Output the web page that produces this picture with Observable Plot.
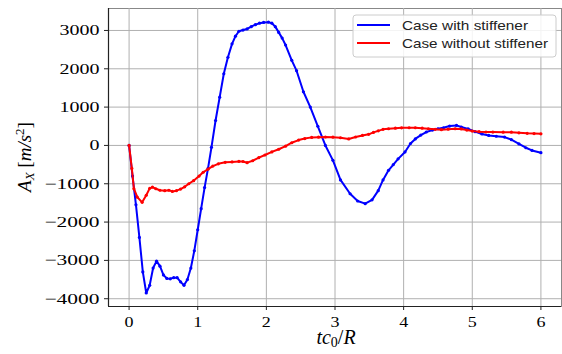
<!DOCTYPE html>
<html><head><meta charset="utf-8">
<script src="https://cdn.jsdelivr.net/npm/d3@7"></script>
<script src="https://cdn.jsdelivr.net/npm/@observablehq/plot@0.6"></script>
<style>body{margin:0;background:#fff}svg{display:block}</style>
</head><body>
<script>
const seriesNames = ["Case with stiffener", "Case without stiffener"];
const seriesColors = ["#0000ff", "#ff0000"];
const tWith = [0,0.05,0.10,0.15,0.20,0.25,0.30,0.35,0.40,0.45,0.50,0.55,0.60,0.65,0.70,0.75,0.80,0.85,0.90,0.95,1.00,1.05,1.10,1.15,1.20,1.26,1.32,1.38,1.44,1.50,1.55,1.60,1.66,1.72,1.78,1.84,1.90,1.96,2.03,2.08,2.13,2.18,2.23,2.28,2.37,2.44,2.54,2.64,2.75,2.86,2.97,3.08,3.22,3.33,3.44,3.54,3.63,3.70,3.78,3.85,3.92,4.02,4.10,4.17,4.25,4.33,4.42,4.50,4.58,4.67,4.77,4.84,4.94,5.04,5.14,5.24,5.35,5.47,5.57,5.68,5.78,5.87,6.00];
const aWith = [0,-800,-1550,-2400,-3300,-3850,-3650,-3200,-3020,-3150,-3380,-3470,-3480,-3450,-3450,-3560,-3650,-3500,-3200,-2750,-2200,-1650,-1100,-600,-50,650,1260,1870,2300,2650,2850,2980,3010,3040,3100,3150,3190,3210,3217,3190,3100,2950,2800,2620,2220,1950,1400,1000,500,0,-390,-900,-1261,-1450,-1520,-1420,-1180,-900,-650,-500,-350,-170,50,170,270,350,400,435,460,505,522,480,430,360,300,260,240,217,150,40,-60,-130,-190];
const tWithout = [0,0.04,0.07,0.12,0.19,0.25,0.30,0.34,0.39,0.45,0.52,0.58,0.63,0.69,0.75,0.81,0.87,0.94,1.02,1.08,1.15,1.22,1.30,1.40,1.50,1.60,1.66,1.72,1.80,1.89,1.98,2.08,2.18,2.28,2.37,2.47,2.56,2.66,2.76,2.86,2.97,3.08,3.20,3.30,3.40,3.49,3.56,3.63,3.70,3.78,3.88,3.97,4.08,4.17,4.27,4.36,4.46,4.55,4.65,4.75,4.84,4.92,5.00,5.10,5.20,5.30,5.45,5.57,5.68,5.80,5.90,6.00];
const aWithout = [0,-600,-1130,-1350,-1485,-1300,-1120,-1090,-1130,-1170,-1180,-1170,-1200,-1180,-1140,-1080,-1000,-920,-800,-700,-620,-540,-480,-440,-430,-417,-420,-450,-400,-320,-250,-170,-100,-20,70,140,180,210,215,220,215,200,170,220,260,290,340,380,420,435,450,460,461,461,450,435,420,410,425,435,430,400,375,360,350,348,345,345,330,315,310,304];
const xTicks = [0,1,2,3,4,5,6];
const yTicks = [-4000,-3000,-2000,-1000,0,1000,2000,3000];

const dWith = tWith.map((t,i)=>({t, a:aWith[i]}));
const dWithout = tWithout.map((t,i)=>({t, a:aWithout[i]}));
const xDom = [-0.3, 6.3], yDom = [-4203, 3573];
const fmt = d => (d < 0 ? "\u2212" : "") + Math.abs(d);

const svg = Plot.plot({
  width: 562, height: 354,
  marginLeft: 108, marginRight: 1, marginTop: 8, marginBottom: 48,
  x: {domain: xDom}, y: {domain: yDom},
  style: {fontFamily: "'Liberation Serif', serif", fontSize: "15px", color: "#000", background: "#fff"},
  marks: [
    Plot.frame({stroke: "#888", strokeWidth: 1}),
    Plot.gridX(xTicks, {stroke: "#b0b0b0", strokeOpacity: 1, strokeWidth: 1}),
    Plot.gridY(yTicks, {stroke: "#b0b0b0", strokeOpacity: 1, strokeWidth: 1}),
    Plot.line(dWith, {x: "t", y: "a", stroke: seriesColors[0], strokeWidth: 2}),
    Plot.dot(dWith, {x: "t", y: "a", r: 1.6, fill: seriesColors[0], stroke: null}),
    Plot.line(dWithout, {x: "t", y: "a", stroke: seriesColors[1], strokeWidth: 2}),
    Plot.dot(dWithout, {x: "t", y: "a", r: 1.6, fill: seriesColors[1], stroke: null}),
    Plot.ruleX([xDom[0]], {stroke: "#222", strokeWidth: 1.2}),
    Plot.ruleY([yDom[0]], {stroke: "#222", strokeWidth: 1.2}),
    Plot.axisX(xTicks, {tickSize: 4, tickPadding: 6, label: null, stroke: "#222", tickFormat: fmt}),
    Plot.axisY(yTicks, {tickSize: 4, tickPadding: 5, label: null, stroke: "#222", tickFormat: fmt})
  ]
});
document.body.appendChild(svg);
const s = d3.select(svg);
// stretch tick labels to the Computer Modern widths
s.selectAll("[aria-label='y-axis tick label'] text").each(function(){
  const txt = this.textContent;
  const digits = txt.replace(/[^0-9]/g,"").length;
  const neg = /[\u2212-]/.test(txt);
  d3.select(this).attr("textLength", digits*10 + (neg?15:0)).attr("lengthAdjust","spacingAndGlyphs");
});
s.selectAll("[aria-label='x-axis tick label'] text").attr("textLength", 9).attr("lengthAdjust","spacingAndGlyphs");

// axis labels
const ff = "'Liberation Serif', serif";
const xl = s.append("text").attr("x", 336).attr("y", 344).attr("text-anchor","middle")
  .attr("font-family", ff).attr("font-size", 20);
xl.append("tspan").attr("font-style","italic").text("tc");
xl.append("tspan").attr("font-size", 14).attr("dy", 3).text("0");
xl.append("tspan").attr("dy", -3).text("/");
xl.append("tspan").attr("font-style","italic").text("R");

const yl = s.append("text").attr("transform","translate(31,157) rotate(-90)").attr("text-anchor","middle")
  .attr("font-family", ff).attr("font-size", 19);
yl.append("tspan").attr("font-style","italic").text("A");
yl.append("tspan").attr("font-style","italic").attr("font-size", 13).attr("dy", 3).text("X");
yl.append("tspan").attr("dy", -3).text(" [");
yl.append("tspan").attr("font-style","italic").text("m/s");
yl.append("tspan").attr("font-size", 13).attr("dy", -7).text("2");
yl.append("tspan").attr("dy", 7).text("]");

// legend
const lg = s.append("g").attr("text-anchor", "start");
lg.append("rect").attr("x", 353).attr("y", 15).attr("width", 203).attr("height", 42).attr("rx", 3)
  .attr("fill", "#fff").attr("fill-opacity", 0.85).attr("stroke", "#ccc");
const widths = [126, 146];
seriesNames.forEach((n,i)=>{
  const y = 25 + i*18;
  lg.append("line").attr("x1", 357).attr("x2", 390).attr("y1", y).attr("y2", y)
    .attr("stroke", seriesColors[i]).attr("stroke-width", 1.8);
  lg.append("text").attr("x", 402).attr("y", y+4.5).attr("text-anchor","start")
    .attr("font-family","'Liberation Sans', Arial, sans-serif")
    .attr("font-size", 13).attr("fill","#222").attr("textLength", widths[i]).attr("lengthAdjust","spacingAndGlyphs").text(n);
});
</script>
</body></html>
